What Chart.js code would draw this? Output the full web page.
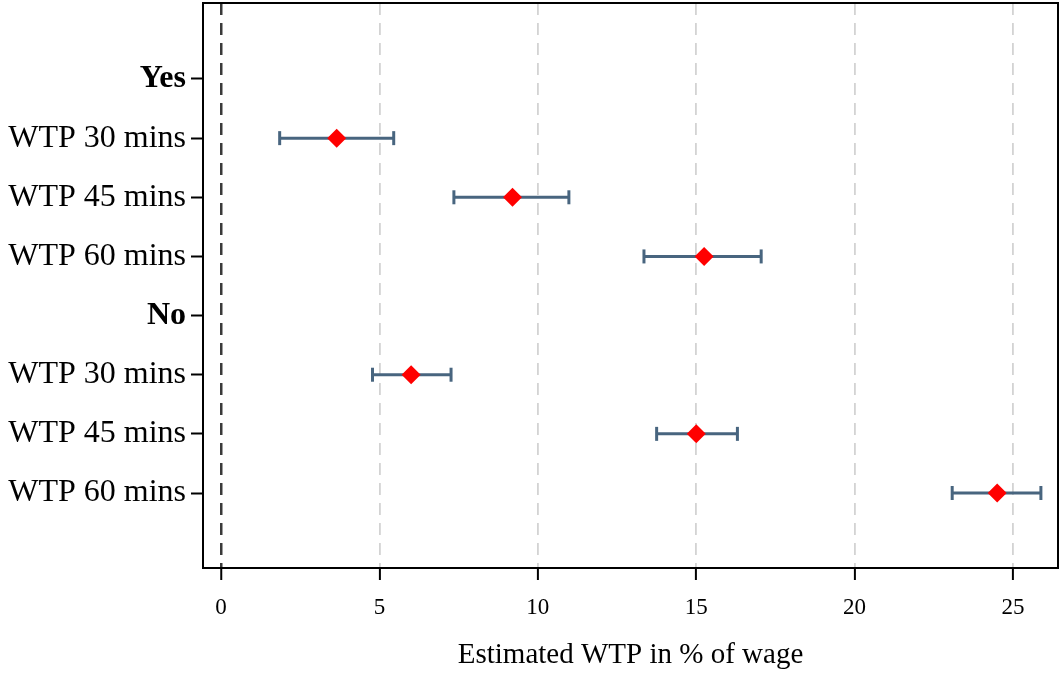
<!DOCTYPE html>
<html>
<head>
<meta charset="utf-8">
<script src="https://cdn.jsdelivr.net/npm/chart.js@4/dist/chart.umd.min.js"></script>
<style>
html,body{margin:0;padding:0;background:#fff;}
#wrap{width:1061px;height:673px;position:relative;}
</style>
</head>
<body>
<div id="wrap"><canvas id="c"></canvas></div>
<script>
// ---- data ----
const rowLabels = ['Yes','WTP 30 mins','WTP 45 mins','WTP 60 mins','No','WTP 30 mins','WTP 45 mins','WTP 60 mins'];
const rowPos    = [1, 2, 3, 4, 5, 6, 7, 8];
const headerRows = [1, 5];
const estimates = [null, 3.65, 9.2, 15.25, null, 6.0, 15.0, 24.5];
const ciLow     = [null, 1.85, 7.35, 13.35, null, 4.78, 13.75, 23.08];
const ciHigh    = [null, 5.45, 10.98, 17.05, null, 7.26, 16.3, 25.88];
const xTicks    = [0, 5, 10, 15, 20, 25];
const xTitle    = 'Estimated WTP in % of wage';

const FONT = "'Liberation Serif', 'Times New Roman', serif";
const barColor = '#48657f';

const datasets = [];
// estimates (drawn on top: index 0)
datasets.push({
  type: 'scatter',
  data: rowPos.map((p, i) => estimates[i] == null ? null : {x: estimates[i], y: p}).filter(d => d),
  pointStyle: 'rectRot',
  pointRadius: 9.5,
  backgroundColor: '#ff0000',
  borderColor: '#ff0000',
  borderWidth: 0,
  showLine: false
});
// confidence intervals
rowPos.forEach((p, i) => {
  if (ciLow[i] == null) return;
  datasets.push({
    type: 'scatter',
    data: [{x: ciLow[i], y: p}, {x: ciHigh[i], y: p}],
    showLine: true,
    borderColor: barColor,
    borderWidth: 3,
    pointStyle: 'line',
    pointRotation: 90,
    pointRadius: 7,
    pointBorderWidth: 3,
    pointBorderColor: barColor,
    pointBackgroundColor: barColor
  });
});

const framePlugin = {
  id: 'frame',
  afterDraw(chart) {
    const a = chart.chartArea, ctx = chart.ctx;
    ctx.save();
    ctx.strokeStyle = '#000';
    ctx.lineWidth = 2;
    ctx.strokeRect(a.left, a.top, a.right - a.left, a.bottom - a.top);
    ctx.restore();
  }
};

new Chart(document.getElementById('c'), {
  type: 'scatter',
  data: { datasets },
  plugins: [framePlugin],
  options: {
    responsive: true,
    maintainAspectRatio: false,
    animation: false,
    layout: { autoPadding: false, padding: { top: 3, right: 3, left: 0, bottom: 0 } },
    plugins: { legend: { display: false }, tooltip: { enabled: false } },
    scales: {
      x: {
        type: 'linear',
        min: -0.57,
        max: 26.42,
        afterBuildTicks: (s) => { s.ticks = xTicks.map(v => ({value: v})); },
        afterFit: (s) => { s.height = 105; s.paddingLeft = 0; s.paddingRight = 0; },
        border: {
          display: false,
          dash: (ctx) => [12, 8]
        },
        grid: {
          color: (ctx) => (ctx.tick && ctx.tick.value === 0) ? '#3a3a3a' : '#d3d3d3',
          lineWidth: (ctx) => (ctx.tick && ctx.tick.value === 0) ? 2.5 : 1.8,
          drawTicks: true,
          tickLength: 12,
          tickColor: '#000',
          tickWidth: 2
        },
        ticks: {
          color: '#000',
          padding: 14,
          font: { family: FONT, size: 23 },
          maxRotation: 0
        },
        title: {
          display: true,
          text: xTitle,
          color: '#000',
          font: { family: FONT, size: 29 },
          padding: { top: 0, bottom: 0 }
        }
      },
      y: {
        type: 'linear',
        reverse: true,
        min: -0.285,
        max: 9.268,
        afterBuildTicks: (s) => { s.ticks = rowPos.map(v => ({value: v})); },
        afterFit: (s) => { s.width = 203; s.paddingTop = 0; s.paddingBottom = 0; },
        border: { display: false },
        grid: {
          drawOnChartArea: false,
          drawTicks: true,
          tickLength: 12,
          tickColor: '#000',
          tickWidth: 2
        },
        ticks: {
          color: '#000',
          padding: 5,
          callback: (v) => { const i = rowPos.indexOf(v); return i >= 0 ? rowLabels[i] : ''; },
          font: (ctx) => ({
            family: FONT,
            size: 32,
            weight: (ctx.tick && headerRows.includes(ctx.tick.value)) ? 'bold' : 'normal'
          })
        }
      }
    }
  }
});
</script>
</body>
</html>
